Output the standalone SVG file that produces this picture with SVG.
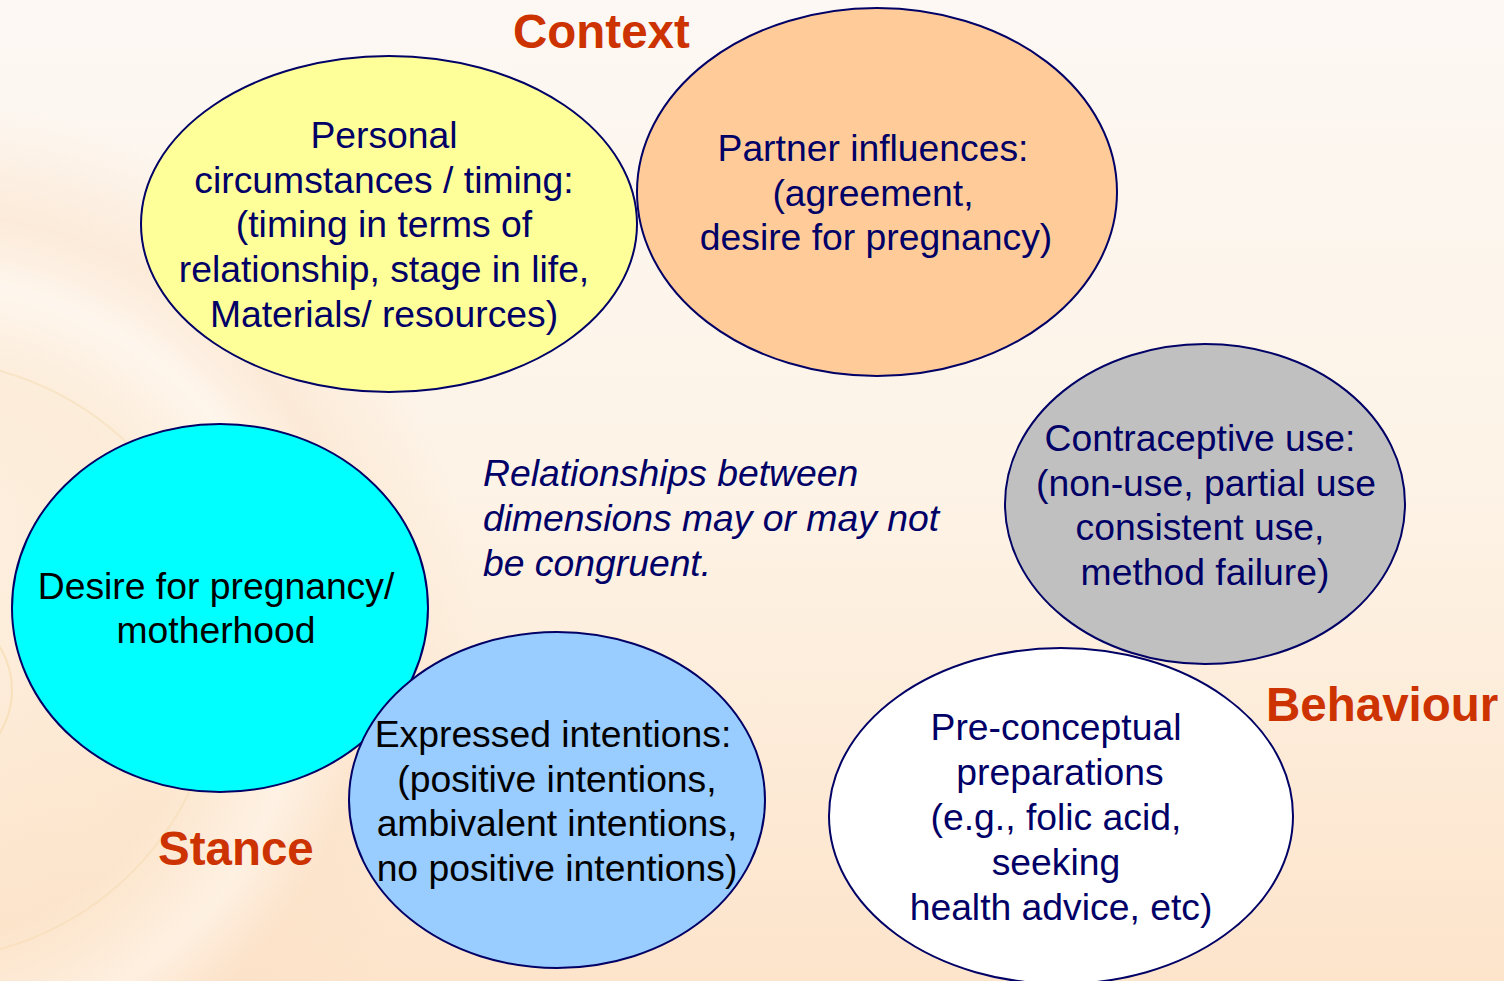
<svg xmlns="http://www.w3.org/2000/svg" width="1504" height="981" viewBox="0 0 1504 981">
<defs>
<linearGradient id="bg" x1="0" y1="0" x2="0" y2="1">
<stop offset="0" stop-color="#fdf8f4"/>
<stop offset="0.5" stop-color="#fdf3e6"/>
<stop offset="1" stop-color="#fde4cb"/>
</linearGradient>
<radialGradient id="halo" cx="-80" cy="660" r="560" gradientUnits="userSpaceOnUse">
<stop offset="0" stop-color="#fde6cc" stop-opacity="0"/>
<stop offset="0.5" stop-color="#fbe3c8" stop-opacity="0.5"/>
<stop offset="0.68" stop-color="#fff7ee" stop-opacity="0.6"/>
<stop offset="0.8" stop-color="#fbe0c6" stop-opacity="0.5"/>
<stop offset="1" stop-color="#fbe0c6" stop-opacity="0"/>
</radialGradient>
<style>
.n{stroke:#000066;stroke-width:2}
.t{font-family:"Liberation Sans",Arial,sans-serif;font-size:37.3px;fill:#000066;text-anchor:middle}
.k{fill:#000000}
.h{font-family:"Liberation Sans",Arial,sans-serif;font-size:47.5px;font-weight:bold;fill:#cc3300}
.i{font-family:"Liberation Sans",Arial,sans-serif;font-size:37.3px;font-style:italic;fill:#000066}
</style>
</defs>
<rect width="1504" height="981" fill="url(#bg)"/>
<g id="decor" fill="none">
<circle cx="-80" cy="660" r="560" fill="url(#halo)"/>
<circle cx="-80" cy="660" r="300" stroke="#f6dcb0" stroke-width="2" opacity="0.5"/>
<circle cx="-70" cy="690" r="82" stroke="#f5d9a8" stroke-width="2" opacity="0.6"/>
</g>
<g id="labels">
<text class="h" x="513" y="48">Context</text>
<text class="h" x="1266" y="721">Behaviour</text>
<text class="h" x="158" y="865">Stance</text>
</g>
<g id="connectors"></g>
<g id="personal">
<ellipse class="n" cx="389" cy="224" rx="248" ry="168" fill="#ffff99"/>
<text class="t" x="384" y="148">Personal</text>
<text class="t" x="384" y="193">circumstances / timing:</text>
<text class="t" x="384" y="237">(timing in terms of</text>
<text class="t" x="384" y="282">relationship, stage in life,</text>
<text class="t" x="384" y="327">Materials/ resources)</text>
</g>
<g id="partner">
<ellipse class="n" cx="877" cy="192" rx="240" ry="184" fill="#ffcc99"/>
<text class="t" x="873" y="161">Partner influences:</text>
<text class="t" x="873" y="206">(agreement,</text>
<text class="t" x="876" y="250">desire for pregnancy)</text>
</g>
<g id="desire">
<ellipse class="n" cx="220" cy="608" rx="208" ry="184" fill="#00ffff"/>
<text class="t k" x="216" y="599">Desire for pregnancy/</text>
<text class="t k" x="216" y="643">motherhood</text>
</g>
<g id="intentions">
<ellipse class="n" cx="557" cy="800" rx="208" ry="168" fill="#99ccff"/>
<text class="t k" x="553" y="747">Expressed intentions:</text>
<text class="t k" x="557" y="792">(positive intentions,</text>
<text class="t k" x="557" y="836">ambivalent intentions,</text>
<text class="t k" x="557" y="881">no positive intentions)</text>
</g>
<g id="contraceptive">
<ellipse class="n" cx="1205" cy="504" rx="200" ry="160" fill="#c0c0c0"/>
<text class="t" x="1200" y="451">Contraceptive use:</text>
<text class="t" x="1206" y="496">(non-use, partial use</text>
<text class="t" x="1200" y="540">consistent use,</text>
<text class="t" x="1205" y="585">method failure)</text>
</g>
<g id="preconceptual">
<ellipse class="n" cx="1061" cy="816" rx="232" ry="168" fill="#ffffff"/>
<text class="t" x="1056" y="740">Pre-conceptual</text>
<text class="t" x="1060" y="785">preparations</text>
<text class="t" x="1056" y="830">(e.g., folic acid,</text>
<text class="t" x="1056" y="875">seeking</text>
<text class="t" x="1061" y="920">health advice, etc)</text>
</g>
<g id="note">
<text class="i" x="483" y="486">Relationships between</text>
<text class="i" x="483" y="531">dimensions may or may not</text>
<text class="i" x="483" y="576">be congruent.</text>
</g>
</svg>
